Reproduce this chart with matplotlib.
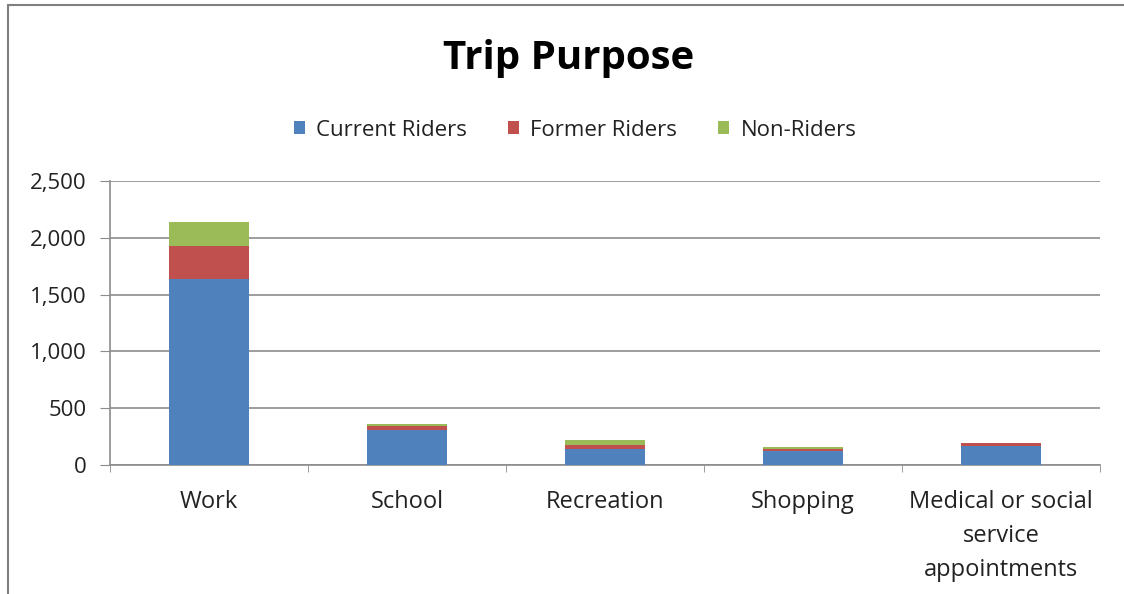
import matplotlib
matplotlib.use("Agg")
import matplotlib.pyplot as plt
from matplotlib.patches import Rectangle
import numpy as np

categories = ["Work", "School", "Recreation", "Shopping", "Medical or social\nservice\nappointments"]
current_riders = [1640, 310, 140, 125, 170]
former_riders = [285, 35, 35, 20, 20]
non_riders = [210, 20, 45, 15, 5]
yticks = [0, 500, 1000, 1500, 2000, 2500]
ytick_labels = ["0", "500", "1,000", "1,500", "2,000", "2,500"]

plt.rcParams['font.family'] = ['Open Sans', 'DejaVu Sans']

W, H = 1124, 594
fig = plt.figure(figsize=(W / 100, H / 100), dpi=100)
ax = fig.add_axes([110 / W, 1 - 465 / H, 990 / W, 284 / H])

x = np.arange(len(categories))
cur = np.array(current_riders)
form = np.array(former_riders)
non = np.array(non_riders)
bw = 0.4
ax.bar(x, cur, bw, color="#4F81BD", label="Current Riders", zorder=3)
ax.bar(x, form, bw, bottom=cur, color="#C0504D", label="Former Riders", zorder=3)
ax.bar(x, non, bw, bottom=cur + form, color="#9BBB59", label="Non-Riders", zorder=3)

ax.set_xlim(-0.5, len(categories) - 0.5)
ax.set_ylim(0, 2500)
ax.set_yticks(yticks)
ax.set_yticklabels(ytick_labels, fontsize=16, color="#222222")
ax.yaxis.grid(True, color="#8c8c8c", linewidth=1.2, zorder=0)
ax.set_xticks(x)
ax.set_xticklabels(categories, fontsize=17, color="#222222", linespacing=1.55)
ax.set_xticks(np.arange(len(categories) + 1) - 0.5, minor=True)
ax.tick_params(axis="x", which="major", length=0, pad=18)
ax.tick_params(axis="x", which="minor", length=5, color="#8c8c8c", direction="out")
ax.tick_params(axis="y", length=7, color="#8c8c8c", pad=10)
for s in ["top", "right"]:
    ax.spines[s].set_visible(False)
for s in ["left", "bottom"]:
    ax.spines[s].set_color("#8c8c8c")
    ax.spines[s].set_linewidth(1.2)

fig.text(569 / W, 1 - 58 / H, "Trip Purpose", ha="center", va="center",
         fontsize=29, fontweight="bold", color="#000000")
ax.legend(loc="center", bbox_to_anchor=(575 / W, 1 - 130 / H), bbox_transform=fig.transFigure,
          ncol=3, frameon=False, fontsize=16, handlelength=0.5, handleheight=0.5,
          handletextpad=0.5, columnspacing=1.85, labelcolor="#222222")

fig.patches.append(Rectangle((8 / W, -0.01), 1.1, 1 - 5 / H + 0.01, transform=fig.transFigure,
                             fill=False, edgecolor="#7f7f7f", linewidth=1.5))

fig.savefig("out.png", dpi=100)
